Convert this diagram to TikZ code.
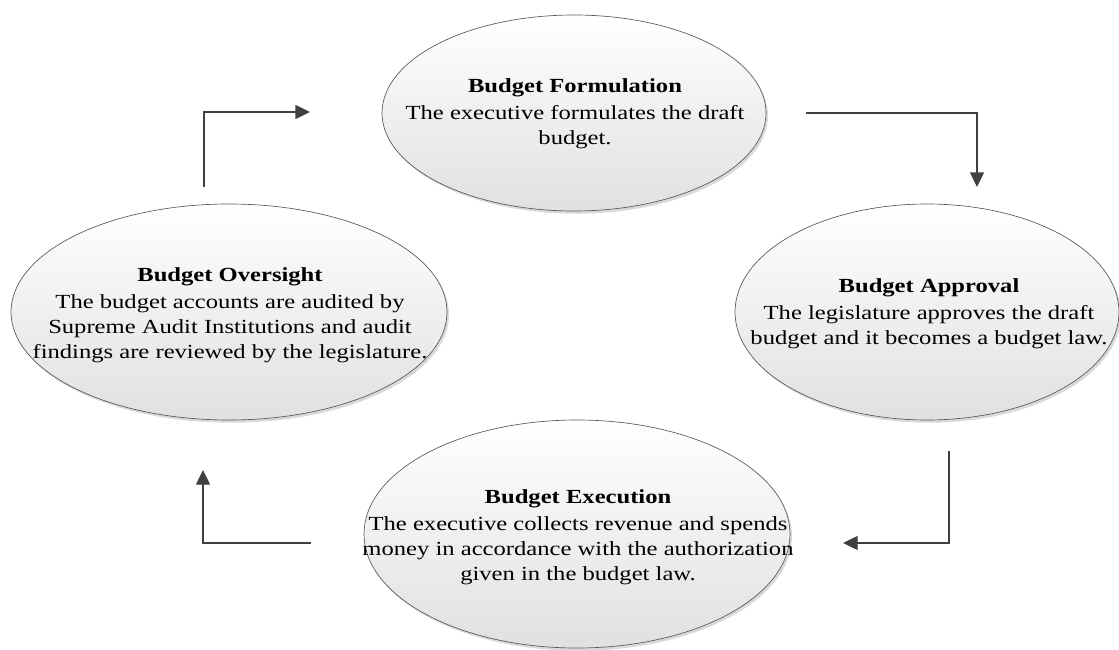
\documentclass[tikz,border=0pt]{standalone}
\usepackage{fontspec}
\setmainfont{Liberation Serif}[FakeStretch=1.23]
\usetikzlibrary{shapes.geometric,shadows,arrows.meta}

\begin{document}
\begin{tikzpicture}[x=0.75pt,y=-0.75pt,
    phase/.style={ellipse,draw=black!65,line width=0.5pt,inner sep=0pt,
      top color=white,bottom color=black!12,
      drop shadow={shadow xshift=1.5pt,shadow yshift=-2pt,opacity=0.3,fill=black!50}},
    phasetext/.style={align=center,inner sep=0pt,font=\fontsize{15}{18.75}\selectfont},
    cyclearrow/.style={draw=black!75,line width=1pt,-{Triangle[length=11pt,width=10.5pt]}}]
  \useasboundingbox (0,0) rectangle (1119,649);

  \node[phase,minimum width=288pt,minimum height=147pt] (form) at (574,113) {};
  \node[phase,minimum width=288pt,minimum height=162pt] (appr) at (927,312) {};
  \node[phase,minimum width=319.5pt,minimum height=171pt] (exec) at (577,534) {};
  \node[phase,minimum width=327pt,minimum height=162pt] (over) at (229,312) {};

  \node[phasetext] (formtxt) at (575,114) {\textbf{Budget Formulation}\\[1.5pt]The executive formulates the draft\\budget.};
  \node[phasetext] (apprtxt) at (929,314) {\textbf{Budget Approval}\\[1.5pt]The legislature approves the draft\\budget and it becomes a budget law.};
  \node[phasetext] (exectxt) at (578,537) {\textbf{Budget Execution}\\[1.5pt]The executive collects revenue and spends\\money in accordance with the authorization\\given in the budget law.};
  \node[phasetext] (overtxt) at (230,315) {\textbf{Budget Oversight}\\[1.5pt]The budget accounts are audited by\\Supreme Audit Institutions and audit\\findings are reviewed by the legislature.};

  \coordinate (a1s) at (204,187);
  \coordinate (a1e) at (310,112);
  \coordinate (a2s) at (806,113);
  \coordinate (a2e) at (977,187);
  \coordinate (a3s) at (949,451);
  \coordinate (a3e) at (843,543);
  \coordinate (a4s) at (311,543);
  \coordinate (a4e) at (203,470);

  \draw[cyclearrow] (a1s) |- (a1e);
  \draw[cyclearrow] (a2s) -| (a2e);
  \draw[cyclearrow] (a3s) |- (a3e);
  \draw[cyclearrow] (a4s) -| (a4e);
\end{tikzpicture}
\end{document}
